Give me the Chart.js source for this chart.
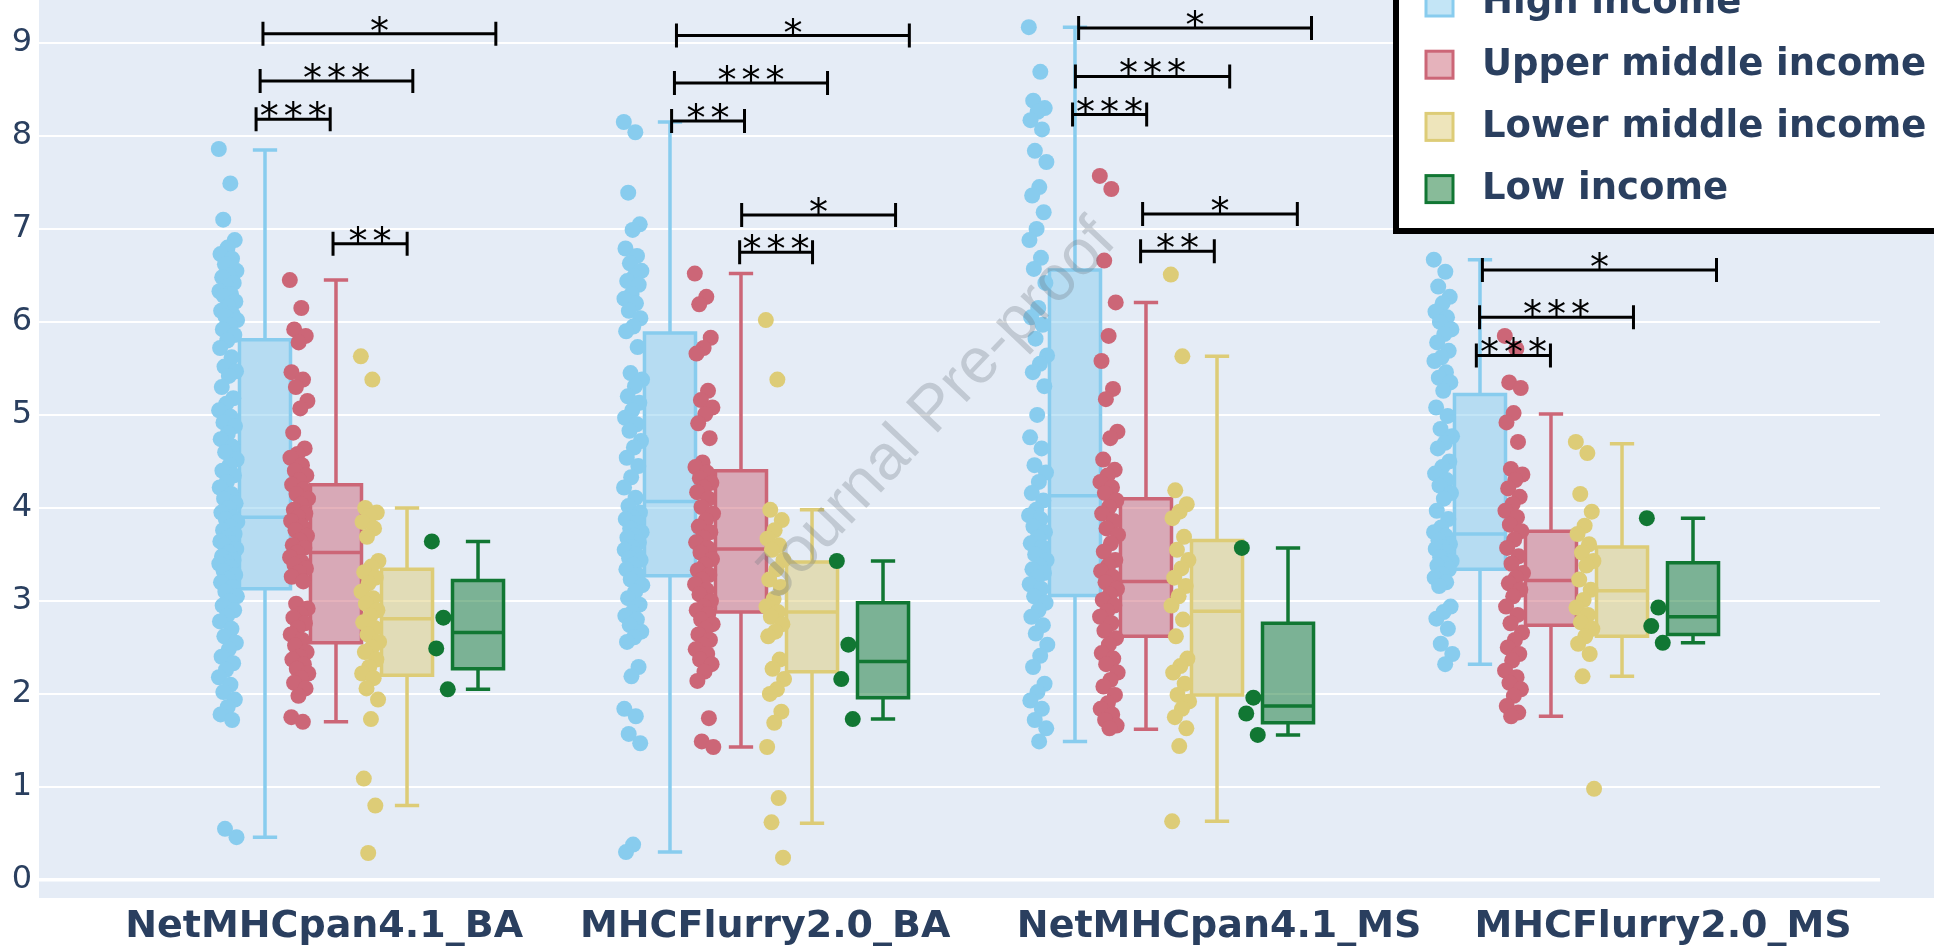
<!DOCTYPE html>
<html>
<head>
<meta charset="utf-8">
<script src="https://cdn.jsdelivr.net/npm/chart.js@4.4.1/dist/chart.umd.min.js"></script>
<style>
  html, body { margin: 0; padding: 0; background: #fff; overflow: hidden; }
  canvas { display: block; }
</style>
</head>
<body>
<canvas id="chart" width="1934" height="947"></canvas>
<script>
// categories and series
const categories = ['NetMHCpan4.1_BA', 'MHCFlurry2.0_BA', 'NetMHCpan4.1_MS', 'MHCFlurry2.0_MS'];
const incomeLevels = ['High income', 'Upper middle income', 'Lower middle income', 'Low income'];
const incomeColors = ['#88CCEE', '#CC6677', '#DDCC77', '#117733'];

// where the category names sit on the x axis
const categoryTickPos = [-0.117, 0.972, 2.093, 3.189];
const yTicks = [0, 1, 2, 3, 4, 5, 6, 7, 8, 9];

// box stats per category: [lower whisker, q1, median, q3, upper whisker]
const highBox  = [[0.46, 3.13, 3.90, 5.81, 7.85], [0.30, 3.27, 4.07, 5.88, 8.15], [1.49, 3.06, 4.13, 6.56, 9.17], [2.32, 3.34, 3.72, 5.22, 6.67]];
const upperBox = [[1.70, 2.55, 3.52, 4.25, 6.45], [1.43, 2.88, 3.56, 4.40, 6.52], [1.62, 2.62, 3.21, 4.10, 6.21], [1.76, 2.74, 3.22, 3.75, 5.01]];
const lowerBox = [[0.80, 2.20, 2.81, 3.34, 4.00], [0.61, 2.24, 2.88, 3.42, 3.98], [0.63, 1.99, 2.89, 3.65, 5.63], [2.19, 2.62, 3.11, 3.58, 4.69]];
const lowBox   = [[2.05, 2.27, 2.66, 3.22, 3.64], [1.73, 1.96, 2.35, 2.98, 3.43], [1.56, 1.69, 1.87, 2.76, 3.57], [2.55, 2.64, 2.83, 3.41, 3.89]];

// individual points per category
const highPoints = [
  [7.86, 7.49, 7.10, 6.88, 6.80, 6.73, 6.68, 6.62, 6.55, 6.50, 6.48, 6.42, 6.38, 6.33, 6.30, 6.28, 6.22, 6.17, 6.12, 6.08, 6.06, 6.02, 5.97, 5.92, 5.86, 5.80, 5.72, 5.62, 5.52, 5.47, 5.42, 5.30, 5.18, 5.12, 5.05, 4.98, 4.92, 4.88, 4.80, 4.74, 4.66, 4.60, 4.52, 4.46, 4.40, 4.35, 4.28, 4.22, 4.15, 4.10, 4.05, 4.00, 3.95, 3.90, 3.88, 3.85, 3.80, 3.76, 3.72, 3.68, 3.64, 3.62, 3.60, 3.56, 3.52, 3.48, 3.44, 3.42, 3.40, 3.36, 3.32, 3.28, 3.24, 3.20, 3.15, 3.10, 3.05, 3.00, 2.95, 2.90, 2.84, 2.78, 2.70, 2.62, 2.55, 2.48, 2.40, 2.33, 2.26, 2.18, 2.10, 2.02, 1.94, 1.86, 1.78, 1.72, 0.55, 0.46],
  [8.15, 8.04, 7.39, 7.05, 6.99, 6.79, 6.71, 6.63, 6.55, 6.49, 6.44, 6.40, 6.30, 6.25, 6.20, 6.12, 6.04, 5.95, 5.90, 5.73, 5.45, 5.38, 5.31, 5.20, 5.13, 5.05, 4.97, 4.90, 4.83, 4.72, 4.65, 4.54, 4.45, 4.33, 4.22, 4.11, 4.02, 3.95, 3.90, 3.88, 3.84, 3.78, 3.74, 3.70, 3.68, 3.63, 3.58, 3.55, 3.50, 3.46, 3.44, 3.39, 3.34, 3.28, 3.23, 3.17, 3.10, 3.03, 2.96, 2.88, 2.84, 2.80, 2.74, 2.67, 2.61, 2.56, 2.29, 2.19, 1.84, 1.76, 1.57, 1.47, 0.38, 0.30],
  [9.17, 8.69, 8.38, 8.30, 8.26, 8.17, 8.07, 7.84, 7.72, 7.45, 7.36, 7.18, 7.00, 6.88, 6.69, 6.57, 6.42, 6.15, 6.05, 5.97, 5.82, 5.64, 5.55, 5.46, 5.31, 5.00, 4.76, 4.64, 4.46, 4.38, 4.28, 4.16, 4.08, 3.98, 3.92, 3.88, 3.80, 3.74, 3.68, 3.62, 3.58, 3.50, 3.44, 3.38, 3.34, 3.30, 3.25, 3.18, 3.13, 3.05, 2.98, 2.90, 2.83, 2.74, 2.65, 2.53, 2.41, 2.29, 2.11, 2.02, 1.93, 1.84, 1.72, 1.63, 1.49],
  [6.67, 6.54, 6.38, 6.27, 6.20, 6.11, 6.05, 6.00, 5.92, 5.87, 5.78, 5.69, 5.62, 5.58, 5.46, 5.40, 5.35, 5.26, 5.08, 4.99, 4.85, 4.77, 4.70, 4.64, 4.50, 4.44, 4.37, 4.30, 4.24, 4.16, 4.10, 3.97, 3.88, 3.79, 3.74, 3.70, 3.65, 3.61, 3.58, 3.56, 3.52, 3.47, 3.43, 3.40, 3.38, 3.34, 3.29, 3.25, 3.20, 3.16, 2.94, 2.88, 2.81, 2.70, 2.54, 2.43, 2.32]
];
const upperPoints = [
  [6.45, 6.15, 5.92, 5.85, 5.78, 5.46, 5.38, 5.30, 5.15, 5.07, 4.81, 4.64, 4.58, 4.54, 4.46, 4.40, 4.35, 4.30, 4.25, 4.20, 4.15, 4.10, 4.04, 3.98, 3.94, 3.90, 3.86, 3.80, 3.76, 3.70, 3.65, 3.60, 3.57, 3.52, 3.47, 3.42, 3.39, 3.35, 3.31, 3.26, 3.21, 2.97, 2.92, 2.86, 2.82, 2.76, 2.71, 2.64, 2.58, 2.52, 2.45, 2.40, 2.37, 2.32, 2.27, 2.22, 2.17, 2.12, 2.06, 1.98, 1.75, 1.70],
  [6.52, 6.27, 6.19, 5.83, 5.72, 5.66, 5.26, 5.16, 5.08, 5.01, 4.91, 4.75, 4.49, 4.44, 4.38, 4.32, 4.27, 4.22, 4.17, 4.10, 4.01, 3.94, 3.87, 3.80, 3.74, 3.68, 3.63, 3.57, 3.52, 3.45, 3.39, 3.33, 3.28, 3.23, 3.18, 3.12, 3.07, 3.00, 2.94, 2.90, 2.86, 2.80, 2.75, 2.70, 2.64, 2.58, 2.53, 2.48, 2.43, 2.37, 2.32, 2.24, 2.14, 1.74, 1.49, 1.43],
  [7.57, 7.43, 6.66, 6.21, 5.85, 5.58, 5.28, 5.17, 4.82, 4.75, 4.52, 4.41, 4.35, 4.28, 4.22, 4.16, 4.08, 4.01, 3.94, 3.86, 3.78, 3.71, 3.62, 3.53, 3.44, 3.38, 3.32, 3.26, 3.20, 3.13, 3.07, 3.01, 2.95, 2.89, 2.83, 2.76, 2.68, 2.60, 2.53, 2.44, 2.38, 2.32, 2.23, 2.15, 2.08, 1.99, 1.90, 1.84, 1.78, 1.72, 1.66, 1.63],
  [5.85, 5.71, 5.35, 5.29, 5.02, 4.92, 4.71, 4.42, 4.36, 4.30, 4.21, 4.12, 4.04, 3.97, 3.90, 3.82, 3.75, 3.66, 3.57, 3.48, 3.40, 3.30, 3.25, 3.19, 3.12, 3.05, 2.94, 2.85, 2.76, 2.66, 2.58, 2.50, 2.43, 2.36, 2.25, 2.18, 2.12, 2.05, 1.98, 1.87, 1.80, 1.76]
];
const lowerPoints = [
  [5.63, 5.38, 4.00, 3.95, 3.91, 3.85, 3.78, 3.69, 3.43, 3.37, 3.31, 3.25, 3.19, 3.10, 3.03, 2.97, 2.90, 2.84, 2.77, 2.71, 2.64, 2.56, 2.50, 2.45, 2.37, 2.29, 2.22, 2.17, 2.06, 1.94, 1.73, 1.09, 0.80, 0.29],
  [6.02, 5.38, 3.98, 3.87, 3.76, 3.67, 3.60, 3.55, 3.44, 3.34, 3.23, 3.15, 3.02, 2.94, 2.88, 2.83, 2.75, 2.67, 2.62, 2.37, 2.27, 2.16, 2.05, 2.00, 1.81, 1.69, 1.43, 0.88, 0.62, 0.24],
  [6.51, 5.63, 4.19, 4.04, 3.96, 3.89, 3.69, 3.55, 3.44, 3.35, 3.25, 3.16, 3.05, 2.95, 2.80, 2.62, 2.38, 2.30, 2.23, 2.11, 1.99, 1.92, 1.84, 1.75, 1.63, 1.44, 0.63],
  [4.71, 4.59, 4.15, 3.96, 3.81, 3.72, 3.61, 3.52, 3.43, 3.38, 3.23, 3.12, 3.01, 2.93, 2.85, 2.77, 2.70, 2.62, 2.54, 2.43, 2.19, 0.98]
];
const lowPoints = [
  [3.64, 2.82, 2.49, 2.05],
  [3.43, 2.53, 2.16, 1.73],
  [3.57, 1.96, 1.79, 1.56],
  [3.89, 2.93, 2.73, 2.55]
];

// significance brackets: [x start, x end, y, number of stars]
const brackets = [
  [-0.268, 0.307, 9.10, 1],
  [-0.275, 0.102, 8.59, 3],
  [-0.285, -0.102, 8.18, 3],
  [-0.095, 0.088, 6.84, 2],
  [0.753, 1.328, 9.08, 1],
  [0.748, 1.126, 8.57, 3],
  [0.741, 0.921, 8.16, 2],
  [0.914, 1.294, 7.15, 1],
  [0.909, 1.089, 6.75, 3],
  [1.746, 2.321, 9.16, 1],
  [1.738, 2.119, 8.64, 3],
  [1.731, 1.914, 8.23, 3],
  [1.904, 2.286, 7.16, 1],
  [1.899, 2.081, 6.76, 2],
  [2.743, 3.321, 6.56, 1],
  [2.736, 3.116, 6.05, 3],
  [2.728, 2.911, 5.64, 3]
];

const boxStats = [highBox, upperBox, lowerBox, lowBox];
const pointSets = [highPoints, upperPoints, lowerPoints, lowPoints];

const SLOT = [-0.263, -0.0877, 0.0877, 0.263];
const BOX_HALF = 0.063;
const CAP_HALF = 0.03;
const POINT_SHIFT = -0.091;
const JITTER = 0.023;
const TEXT = '#2a3f5f';

function alpha(hex, a) {
  const n = parseInt(hex.slice(1), 16);
  return `rgba(${n >> 16}, ${(n >> 8) & 255}, ${n & 255}, ${a})`;
}

// spread points sideways a little so they don't sit on one line
const jitter = i => ((i * 0.618034) % 1 - 0.5) * 2 * JITTER;

const datasets = incomeLevels.map((label, s) => ({
  label,
  data: pointSets[s].flatMap((vals, g) => vals.map((v, i) => ({ x: g + SLOT[s] + POINT_SHIFT + jitter(i), y: v }))),
  backgroundColor: incomeColors[s],
  borderWidth: 0,
  pointRadius: 8,
  pointHoverRadius: 8
}));

const backgroundPlugin = {
  id: 'background',
  beforeDraw(chart) {
    const { ctx, chartArea } = chart;
    ctx.save();
    ctx.fillStyle = '#ffffff';
    ctx.fillRect(0, 0, chart.width, chart.height);
    ctx.fillStyle = '#E5ECF6';
    ctx.fillRect(chartArea.left, 0, chart.width - chartArea.left, chartArea.bottom);
    ctx.restore();
  }
};

const boxPlugin = {
  id: 'boxes',
  beforeDatasetsDraw(chart) {
    const { ctx, scales: { x, y } } = chart;
    ctx.save();
    boxStats.forEach((stats, s) => {
      stats.forEach((b, g) => {
        const c = g + SLOT[s];
        const xl = x.getPixelForValue(c - BOX_HALF), xr = x.getPixelForValue(c + BOX_HALF);
        const xm = x.getPixelForValue(c);
        const cl = x.getPixelForValue(c - CAP_HALF), cr = x.getPixelForValue(c + CAP_HALF);
        const [lo, q1, med, q3, hi] = b.map(v => y.getPixelForValue(v));
        ctx.strokeStyle = incomeColors[s];
        ctx.lineWidth = 3.5;
        ctx.fillStyle = alpha(incomeColors[s], 0.5);
        ctx.fillRect(xl, q3, xr - xl, q1 - q3);
        ctx.beginPath();
        ctx.rect(xl, q3, xr - xl, q1 - q3);
        ctx.moveTo(xl, med); ctx.lineTo(xr, med);
        ctx.moveTo(xm, q3); ctx.lineTo(xm, hi);
        ctx.moveTo(xm, q1); ctx.lineTo(xm, lo);
        ctx.moveTo(cl, hi); ctx.lineTo(cr, hi);
        ctx.moveTo(cl, lo); ctx.lineTo(cr, lo);
        ctx.stroke();
      });
    });
    ctx.restore();
  }
};

const bracketPlugin = {
  id: 'brackets',
  afterDatasetsDraw(chart) {
    const { ctx, scales: { x, y } } = chart;
    ctx.save();
    ctx.strokeStyle = '#000';
    ctx.fillStyle = '#000';
    ctx.lineWidth = 3;
    ctx.font = '38px "DejaVu Sans"';
    ctx.textAlign = 'center';
    ctx.textBaseline = 'alphabetic';
    brackets.forEach(([x0, x1, v, stars]) => {
      const a = x.getPixelForValue(x0), b = x.getPixelForValue(x1), py = y.getPixelForValue(v);
      ctx.beginPath();
      ctx.moveTo(a, py); ctx.lineTo(b, py);
      ctx.moveTo(a, py - 12); ctx.lineTo(a, py + 12);
      ctx.moveTo(b, py - 12); ctx.lineTo(b, py + 12);
      ctx.stroke();
      for (let k = 0; k < stars; k++) {
        ctx.fillText('*', (a + b) / 2 + (k - (stars - 1) / 2) * 24, py + 10);
      }
    });
    ctx.restore();
  }
};

const overlayPlugin = {
  id: 'overlay',
  afterDraw(chart) {
    const { ctx } = chart;
    ctx.save();
    // legend box, partly outside the picture
    ctx.fillStyle = '#fff';
    ctx.fillRect(1396, -80, 700, 311);
    ctx.strokeStyle = '#000';
    ctx.lineWidth = 6;
    ctx.strokeRect(1396, -80, 700, 311);
    ctx.font = 'bold 37px "DejaVu Sans"';
    ctx.textBaseline = 'middle';
    ctx.textAlign = 'left';
    incomeLevels.forEach((label, s) => {
      const cy = 2 + s * 62.2;
      ctx.fillStyle = alpha(incomeColors[s], 0.5);
      ctx.fillRect(1426, cy - 13, 27, 27);
      ctx.strokeStyle = incomeColors[s];
      ctx.lineWidth = 3;
      ctx.strokeRect(1426, cy - 13, 27, 27);
      ctx.fillStyle = TEXT;
      ctx.fillText(label, 1482, cy + 1);
    });
    // watermark
    ctx.translate(935, 410);
    ctx.rotate(-46.5 * Math.PI / 180);
    ctx.font = '64px "Liberation Sans"';
    ctx.textAlign = 'center';
    ctx.fillStyle = 'rgba(110, 118, 130, 0.3)';
    ctx.fillText('Journal Pre-proof', 0, 0);
    ctx.restore();
  }
};

new Chart(document.getElementById('chart'), {
  type: 'scatter',
  data: { datasets },
  options: {
    responsive: false,
    animation: false,
    devicePixelRatio: 1,
    layout: { padding: { top: 0, left: 0, right: 54, bottom: 0 }, autoPadding: false },
    plugins: { legend: { display: false }, tooltip: { enabled: false } },
    scales: {
      x: {
        type: 'linear',
        min: -0.821,
        max: 3.7247,
        grid: { display: false, drawTicks: false },
        border: { display: false },
        afterBuildTicks: axis => { axis.ticks = categoryTickPos.map(v => ({ value: v })); },
        afterFit: axis => { axis.height = 49; axis.paddingLeft = 0; axis.paddingRight = 0; },
        ticks: {
          autoSkip: false,
          maxRotation: 0,
          minRotation: 0,
          padding: 6,
          color: TEXT,
          font: { family: '"DejaVu Sans"', size: 38, weight: 'bold' },
          callback: (v, i) => categories[i]
        }
      },
      y: {
        min: -0.194,
        max: 9.462,
        grid: {
          color: '#ffffff',
          lineWidth: c => (c.tick && c.tick.value === 0 ? 3.5 : 2),
          drawTicks: false
        },
        border: { display: false },
        afterBuildTicks: axis => { axis.ticks = yTicks.map(v => ({ value: v })); },
        afterFit: axis => { axis.width = 39; axis.paddingTop = 0; axis.paddingBottom = 0; },
        ticks: {
          padding: 7,
          color: TEXT,
          font: { family: '"DejaVu Sans"', size: 32 }
        }
      }
    }
  },
  plugins: [backgroundPlugin, boxPlugin, bracketPlugin, overlayPlugin]
});
</script>
</body>
</html>
